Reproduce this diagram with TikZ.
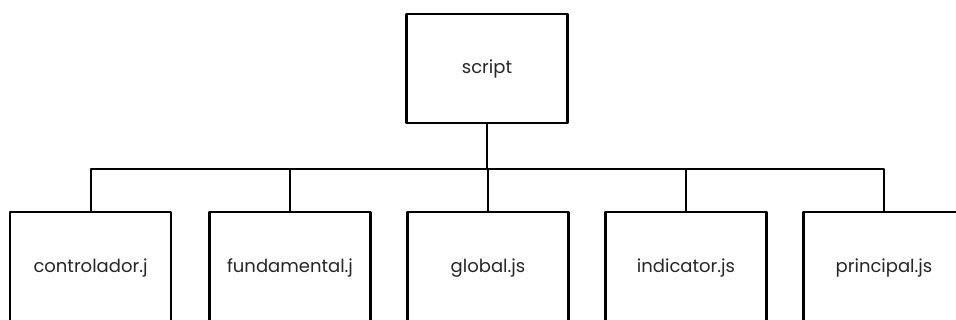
\documentclass[tikz,border=0pt]{standalone}
\usepackage{fontspec}
\setmainfont{Poppins}
\usetikzlibrary{positioning}
\tikzset{
  tree/.style={font=\fontsize{18}{21}\selectfont, text=black!85,
               x=1pt, y=-1pt, line cap=round, line join=round},
  file/.style={draw, line width=2.6pt, fill=white, align=center,
               minimum width=161pt, minimum height=109pt, inner sep=2pt},
  link/.style={line width=2pt}
}
\begin{document}
\begin{tikzpicture}[tree]
    \useasboundingbox (0,0) rectangle (956,320);
    \clip (0,0) rectangle (956,320);

    \node[file] (root) at (487,68.5) {script};

    \node[file, minimum height=112pt] (ctrl) at (90.5,268) {controlador.j};
    \node[file, minimum height=112pt] (fund) at (290,268) {fundamental.j};
    \node[file, minimum height=112pt] (glob) at (488,268) {global.js};
    \node[file, minimum height=112pt] (ind)  at (686,268) {indicator.js};
    \node[file, minimum height=112pt] (prin) at (884,268) {principal.js};

    \coordinate (bus) at (487,169);
    \draw[link] (root.south) -- (bus);
    \draw[link] (ctrl.north) -- (ctrl.north |- bus) -| (prin.north);
    \foreach \n in {fund, glob, ind} {
      \draw[link] (\n.north) -- (\n.north |- bus);
    }
\end{tikzpicture}
\end{document}
